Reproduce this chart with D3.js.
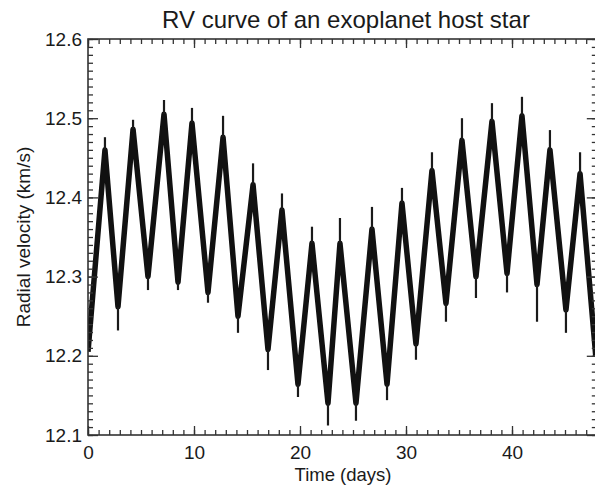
<!DOCTYPE html>
<html>
<head>
<meta charset="utf-8">
<script src="https://cdn.jsdelivr.net/npm/d3@7"></script>
<style>
  html, body { margin: 0; padding: 0; background: #fff; }
  svg { display: block; }
  text { font-family: "Liberation Sans", Arial, Helvetica, sans-serif; fill: #1a1a1a; }
</style>
</head>
<body>
<svg id="chart" width="595" height="485"></svg>
<script>
// ---- data (time in days, RV in km/s) ----
const timeDays = [0, 1.6, 2.83, 4.25, 5.66, 7.17, 8.49, 9.81, 11.32, 12.74, 14.15,
  15.57, 16.98, 18.30, 19.81, 21.13, 22.64, 23.77, 25.28, 26.79, 28.21, 29.62,
  30.94, 32.45, 33.77, 35.28, 36.60, 38.11, 39.53, 40.94, 42.36, 43.58, 45.09,
  46.42, 47.9];
const rvCore = [12.205, 12.46, 12.262, 12.486, 12.30, 12.505, 12.293, 12.494, 12.28, 12.476, 12.25,
  12.416, 12.208, 12.384, 12.164, 12.342, 12.14, 12.342, 12.14, 12.36, 12.164, 12.393,
  12.215, 12.434, 12.266, 12.472, 12.30, 12.496, 12.304, 12.503, 12.29, 12.46, 12.258,
  12.43, 12.20];
const rvSpike = [12.205, 12.476, 12.232, 12.498, 12.283, 12.523, 12.283, 12.513, 12.267, 12.503, 12.229,
  12.443, 12.182, 12.405, 12.148, 12.363, 12.112, 12.374, 12.118, 12.388, 12.144, 12.412,
  12.195, 12.457, 12.243, 12.50, 12.273, 12.519, 12.28, 12.527, 12.243, 12.485, 12.229,
  12.457, 12.20];
const xMajorTicks = [0, 10, 20, 30, 40];
const yMajorTicks = [12.1, 12.2, 12.3, 12.4, 12.5, 12.6];
const titleText = "RV curve of an exoplanet host star";
const xLabelText = "Time (days)";
const yLabelText = "Radial velocity (km/s)";

// ---- layout ----
const mLeft = 88, mTop = 39, mBottom = 435, mRight = 596.8;
const svg = d3.select("#chart");

const x = d3.scaleLinear().domain([0, 48]).range([mLeft, mRight]);
const y = d3.scaleLinear().domain([12.1, 12.6]).range([mBottom, mTop]);

const xMinor = d3.range(0, 49, 1);
const yMinor = d3.range(0, 51, 1).map(i => +(12.1 + i * 0.01).toFixed(2));

svg.append("defs").append("clipPath").attr("id", "clip")
  .append("rect").attr("x", mLeft).attr("y", mTop)
  .attr("width", mRight - mLeft).attr("height", mBottom - mTop);

// ---- data marks ----
const pts = timeDays.map((t, i) => ({ t, v: rvCore[i], s: rvSpike[i] }));
const g = svg.append("g").attr("clip-path", "url(#clip)");

g.append("path")
  .datum(pts)
  .attr("fill", "none")
  .attr("stroke", "#111")
  .attr("stroke-width", 5.5)
  .attr("stroke-linejoin", "round")
  .attr("d", d3.line().x(d => x(d.t)).y(d => y(d.v)));

g.selectAll("line.spike")
  .data(pts)
  .join("line")
  .attr("class", "spike")
  .attr("x1", d => x(d.t)).attr("x2", d => x(d.t))
  .attr("y1", d => y(d.v)).attr("y2", d => y(d.s))
  .attr("stroke", "#1a1a1a").attr("stroke-width", 2.2);

// ---- axes (IDL-style box with inward ticks) ----
const axCol = "#333";
function styleAxis(sel) {
  sel.select(".domain").remove();
  sel.selectAll("line").attr("stroke", axCol).attr("stroke-width", 1.3);
  sel.selectAll("text").style("font-size", "19px")
    .style("font-family", '"Liberation Sans", Arial, Helvetica, sans-serif')
    .attr("fill", "#1a1a1a");
}

// bottom
svg.append("g").attr("transform", `translate(0,${mBottom})`)
  .call(d3.axisBottom(x).tickValues(xMinor).tickSize(-5).tickFormat(""))
  .call(styleAxis);
svg.append("g").attr("transform", `translate(0,${mBottom})`)
  .call(d3.axisBottom(x).tickValues(xMajorTicks).tickSize(-9).tickPadding(11).tickFormat(d3.format("d")))
  .call(styleAxis);
// top
svg.append("g").attr("transform", `translate(0,${mTop})`)
  .call(d3.axisTop(x).tickValues(xMinor).tickSize(-5).tickFormat(""))
  .call(styleAxis);
svg.append("g").attr("transform", `translate(0,${mTop})`)
  .call(d3.axisTop(x).tickValues(xMajorTicks).tickSize(-9).tickFormat(""))
  .call(styleAxis);
// left
svg.append("g").attr("transform", `translate(${mLeft},0)`)
  .call(d3.axisLeft(y).tickValues(yMinor).tickSize(-5).tickFormat(""))
  .call(styleAxis);
svg.append("g").attr("transform", `translate(${mLeft},0)`)
  .call(d3.axisLeft(y).tickValues(yMajorTicks).tickSize(-10).tickPadding(6).tickFormat(d3.format(".1f")))
  .call(styleAxis);
// right
svg.append("g").attr("transform", `translate(${mRight},0)`)
  .call(d3.axisRight(y).tickValues(yMinor).tickSize(-5).tickFormat(""))
  .call(styleAxis);
svg.append("g").attr("transform", `translate(${mRight},0)`)
  .call(d3.axisRight(y).tickValues(yMajorTicks).tickSize(-10).tickFormat(""))
  .call(styleAxis);

// frame
svg.append("rect")
  .attr("x", mLeft).attr("y", mTop)
  .attr("width", mRight - mLeft).attr("height", mBottom - mTop)
  .attr("fill", "none").attr("stroke", axCol).attr("stroke-width", 1.6);

// ---- titles ----
svg.append("text")
  .attr("x", 346).attr("y", 28)
  .attr("text-anchor", "middle")
  .style("font-size", "24px")
  .text(titleText);

svg.append("text")
  .attr("x", 343).attr("y", 481)
  .attr("text-anchor", "middle")
  .style("font-size", "18.5px")
  .text(xLabelText);

svg.append("text")
  .attr("transform", `translate(30,${(mTop + mBottom) / 2}) rotate(-90)`)
  .attr("text-anchor", "middle")
  .style("font-size", "19px")
  .text(yLabelText);
</script>
</body>
</html>
